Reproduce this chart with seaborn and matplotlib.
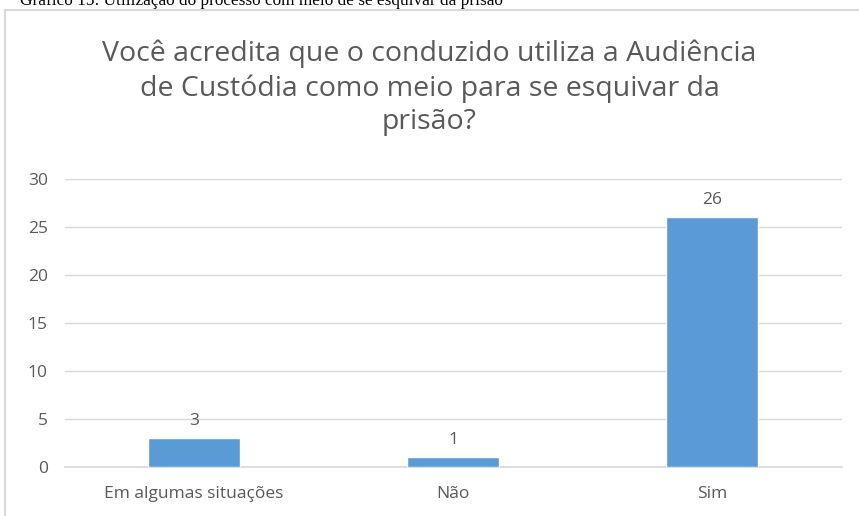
import pandas as pd
import matplotlib.pyplot as plt
import seaborn as sns
from matplotlib.patches import Rectangle

# ===================== Dados =====================
categorias = ["Em algumas situações", "Não", "Sim"]
respostas = [3, 1, 26]
titulo = "Você acredita que o conduzido utiliza a Audiência\nde Custódia como meio para se esquivar da\nprisão?"
legenda_topo = "Gráfico 15: Utilização do processo com meio de se esquivar da prisão"

df = pd.DataFrame({"categoria": categorias, "n": respostas})

sns.set_theme(style="white")
plt.rcParams["font.family"] = ["Open Sans", "DejaVu Sans"]

cinza = "#595959"
fig = plt.figure(figsize=(8.59, 5.16), dpi=100)
ax = fig.add_axes([64.5 / 859, 1 - 467 / 516, (841.5 - 64.5) / 859, (467 - 179) / 516])

sns.barplot(data=df, x="categoria", y="n", color="#5B9BD5", width=0.355,
            saturation=1, ax=ax, zorder=3)

ax.set_ylim(0, 30)
ax.set_yticks(range(0, 31, 5))
ax.set_xlim(-0.5, 2.5)
ax.grid(axis="y", color="#D9D9D9", linewidth=1, zorder=0)
ax.set_axisbelow(True)
for s in ["top", "right", "left"]:
    ax.spines[s].set_visible(False)
ax.spines["bottom"].set_color("#D9D9D9")
ax.set_xlabel("")
ax.set_ylabel("")
ax.tick_params(axis="both", length=0, colors=cinza, labelsize=12.5)
ax.tick_params(axis="y", pad=12)
ax.tick_params(axis="x", pad=14)

for i, v in enumerate(respostas):
    ax.text(i, v + 1.0, str(v), ha="center", va="bottom", color=cinza, fontsize=12.5)

fig.text(0.5, 1 - 88 / 516, titulo, ha="center", va="center", color=cinza,
         fontsize=20.5, linespacing=1.28)

# moldura do gráfico
fig.patches.append(Rectangle((5 / 859, -0.01), 1, 1 - 10 / 516 + 0.01, transform=fig.transFigure,
                             fill=False, edgecolor="#D9D9D9", linewidth=1.5))
fig.text(20 / 859, 1 - 5 / 516, legenda_topo, ha="left", va="baseline",
         fontsize=12.4, color="black", family="Liberation Serif")

fig.savefig("out.png", dpi=100, facecolor="white")
